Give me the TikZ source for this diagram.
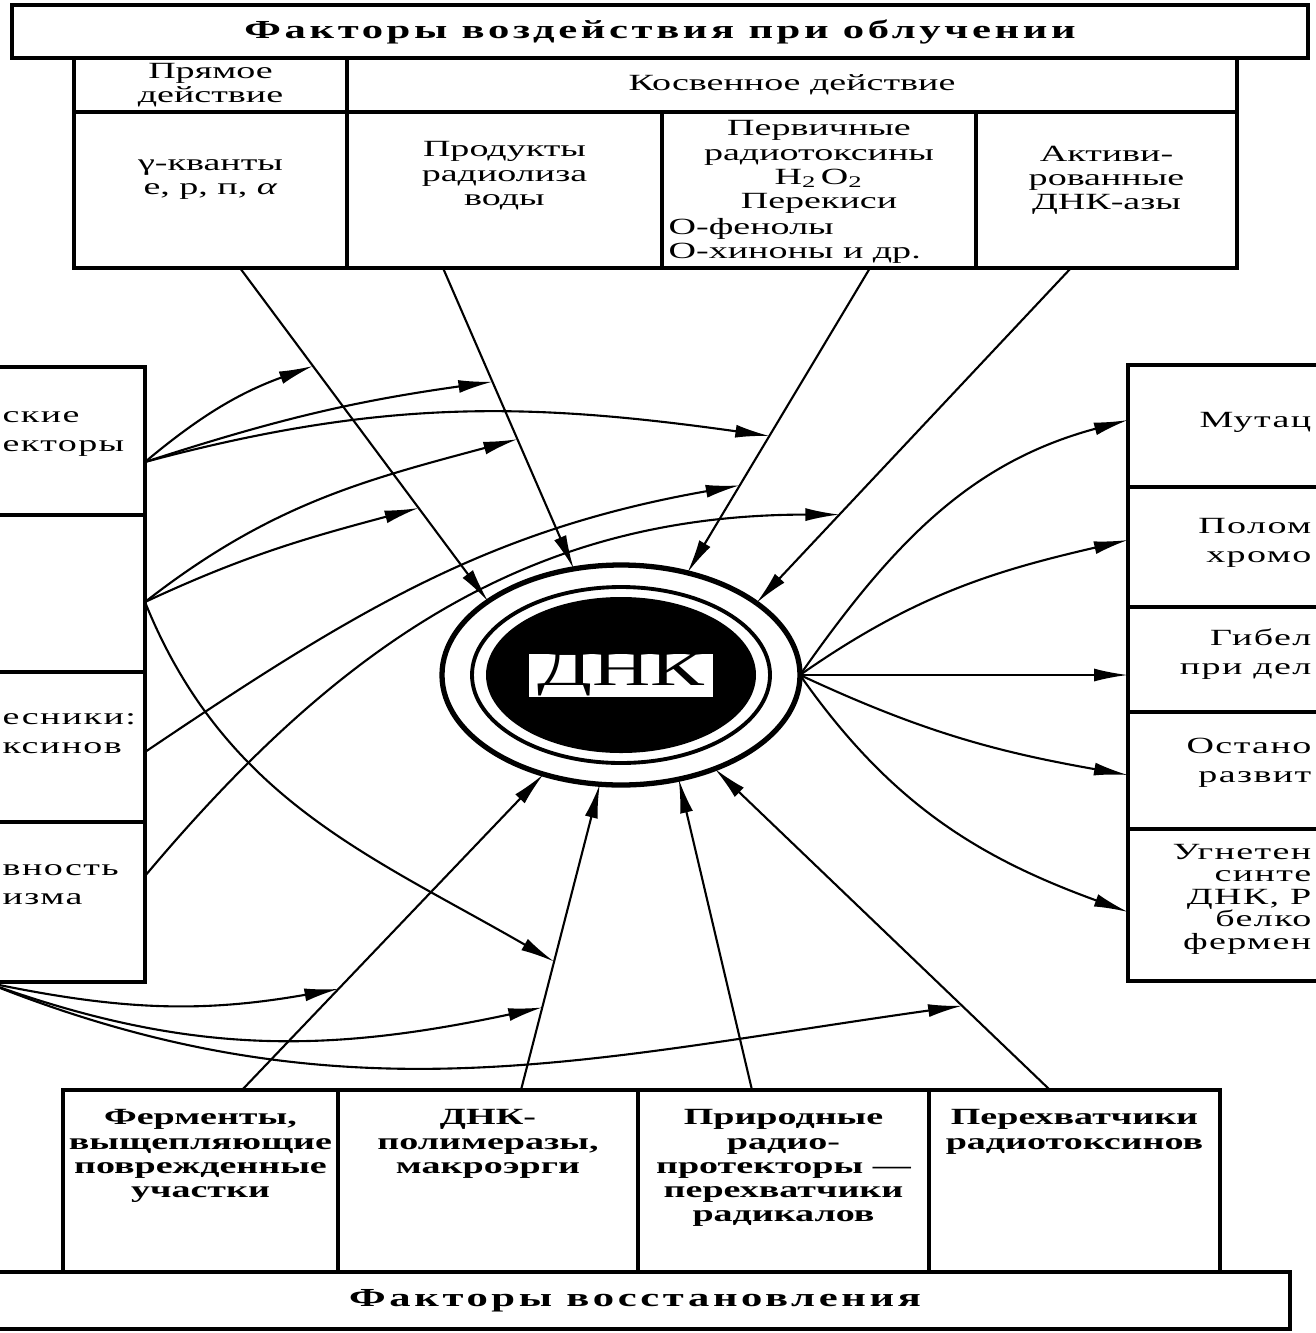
\documentclass[tikz,border=0pt]{standalone}
\usepackage{fontspec}
\setmainfont[FakeStretch=1.64]{Liberation Serif}
\newfontfamily\spacedfont[FakeStretch=1.64,LetterSpace=14]{Liberation Serif}
\newfontfamily\sidefont[FakeStretch=1.64,LetterSpace=6]{Liberation Serif}
\usetikzlibrary{arrows.meta,positioning,shapes.geometric}

\begin{document}
\begin{tikzpicture}[>={Latex[length=3.4mm,width=1.3mm]}, node distance=0pt,
  cell/.style={draw, line width=0.9pt, inner sep=0pt, outer sep=0pt},
  txt/.style={align=center, inner sep=0pt, font=\fontsize{6.6}{6.9}\selectfont},
  btxt/.style={txt, font=\fontsize{6.6}{6.9}\selectfont\bfseries},
  side/.style={inner sep=0pt, font=\sidefont\fontsize{6.6}{8.2}\selectfont},
  head/.style={inner sep=0pt, font=\spacedfont\bfseries\fontsize{7.4}{8}\selectfont},
  conn/.style={->, line width=0.6pt}]
 \useasboundingbox (0,0) rectangle (13.15,-13.33);

 % factors of the irradiation
 \node[cell, head, minimum width=12.96cm, minimum height=0.53cm] (title) at (6.60,-0.315) {Факторы воздействия при облучении};
 \node[cell, txt, minimum width=2.73cm, minimum height=0.54cm, anchor=north west] (direct) at (0.74,-0.58) {Прямое\\действие};
 \node[cell, txt, minimum width=8.90cm, minimum height=0.54cm, right=of direct] (indirect) {Косвенное действие};
 \node[cell, minimum width=2.73cm, minimum height=1.56cm, below=of direct] (gamma) {};
 \node[cell, minimum width=3.15cm, minimum height=1.56cm, right=of gamma] (radiolysis) {};
 \node[cell, minimum width=3.14cm, minimum height=1.56cm, right=of radiolysis] (toxins) {};
 \node[cell, minimum width=2.61cm, minimum height=1.56cm, right=of toxins] (dnase) {};
 \node[txt, below=0.47cm of gamma.north] (gammatxt) {γ-кванты\\е, р, п, \textit{α}};
 \node[txt, below=0.29cm of radiolysis.north] (radtxt) {Продукты\\радиолиза\\воды};
 \node[txt, below=0.08cm of toxins.north] (toxtxt) {Первичные\\радиотоксины\\H\textsubscript{2}\,O\textsubscript{2}\\Перекиси};
 \node[txt, align=left, anchor=north west, xshift=0.06cm, yshift=-0.03cm] (toxtxt2) at (toxins.west |- toxtxt.south) {О-фенолы\\О-хиноны и др.};
 \node[txt, below=0.33cm of dnase.north] (dnasetxt) {Активи-\\рованные\\ДНК-азы};

 % left column (cut off)
 \node[cell, minimum width=3cm, minimum height=1.48cm, anchor=north east] (prot) at (1.45,-3.67) {};
 \node[cell, minimum width=3cm, minimum height=1.57cm, below=of prot] (lb2) {};
 \node[cell, minimum width=3cm, minimum height=1.50cm, below=of lb2] (interc) {};
 \node[cell, minimum width=3cm, minimum height=1.60cm, below=of interc] (react) {};
 \node[side, align=left, anchor=west] (prottxt) at (0.02,-4.34) {ские\\екторы};
 \node[side, align=left, anchor=west] (intertxt) at (0.02,-7.34) {есники:\\ксинов};
 \node[side, align=left, anchor=west] (reacttxt) at (0.02,-8.85) {вность\\изма};

 % right column (cut off)
 \node[cell, minimum width=3.6cm, minimum height=1.22cm, anchor=north west] (mut) at (11.28,-3.65) {};
 \node[cell, minimum width=3.6cm, minimum height=1.20cm, below=of mut] (breaks) {};
 \node[cell, minimum width=3.6cm, minimum height=1.05cm, below=of breaks] (death) {};
 \node[cell, minimum width=3.6cm, minimum height=1.17cm, below=of death] (arrest) {};
 \node[cell, minimum width=3.6cm, minimum height=1.52cm, below=of arrest] (inhib) {};
 \node[side, align=right, anchor=east] (muttxt) at (13.12,-4.22) {Мутац};
 \node[side, align=right, anchor=east] (breakstxt) at (13.12,-5.425) {Полом\\хромо};
 \node[side, align=right, anchor=east] (deathtxt) at (13.12,-6.54) {Гибел\\при дел};
 \node[side, align=right, anchor=east] (arresttxt) at (13.12,-7.63) {Остано\\развит};
 \node[side, align=right, anchor=east, font=\sidefont\fontsize{6.6}{6.4}\selectfont] (inhibtxt) at (13.12,-8.99) {Угнетен\\синте\\ДНК, Р\\белко\\фермен};

 % repair factors
 \node[cell, minimum width=2.75cm, minimum height=1.82cm, anchor=north west] (enz) at (0.63,-10.90) {};
 \node[cell, minimum width=3.00cm, minimum height=1.82cm, right=of enz] (polym) {};
 \node[cell, minimum width=2.91cm, minimum height=1.82cm, right=of polym] (natprot) {};
 \node[cell, minimum width=2.91cm, minimum height=1.82cm, right=of natprot] (catch) {};
 \node[cell, head, minimum width=13.10cm, minimum height=0.57cm, anchor=north west] (repair) at (-0.2,-12.72) {Факторы восстановления};
 \node[btxt, below=0.19cm of enz.north] (enztxt) {Ферменты,\\выщепляющие\\поврежденные\\участки};
 \node[btxt, below=0.19cm of polym.north] (polymtxt) {ДНК-\\полимеразы,\\макроэрги};
 \node[btxt, below=0.19cm of natprot.north] (natprottxt) {Природные\\радио-\\протекторы —\\перехватчики\\радикалов};
 \node[btxt, below=0.19cm of catch.north] (catchtxt) {Перехватчики\\радиотоксинов};

 % DNA
 \node[ellipse, draw, line width=1.5pt, minimum width=3.58cm, minimum height=2.20cm, inner sep=0pt, outer sep=0pt] (dna) at (6.21,-6.75) {};
 \draw[line width=1.1pt] (dna.center) ellipse [x radius=1.49cm, y radius=0.88cm];
 \fill (dna.center) ellipse [x radius=1.35cm, y radius=0.78cm];
 \node[fill=white, inner sep=0pt, minimum width=1.84cm, minimum height=0.43cm, font=\fontsize{14}{14}\selectfont] (dnalbl) at (dna.center) {ДНК};

 % radial lines
 \draw[conn] ([xshift=2.95mm]gamma.south) -- coordinate[pos=0.294] (ga) coordinate[pos=0.72] (gd) (dna.151.8);
 \draw[conn] ([xshift=-6.15mm]radiolysis.south) -- coordinate[pos=0.378] (rb) coordinate[pos=0.569] (re) (dna.114.4);
 \draw[conn] ([xshift=5.1mm]toxins.south) -- coordinate[pos=0.551] (tc) coordinate[pos=0.713] (ti) (dna.57.5);
 \draw[conn] ([xshift=-3.55mm]dnase.south) -- coordinate[pos=0.736] (dr) (dna.28.2);
 \draw[conn] ([xshift=4.15mm]enz.north) -- coordinate[pos=0.32] (eg) (dna.232.5);
 \draw[conn] ([xshift=3.3mm]polym.north) -- coordinate[pos=0.27] (ph) coordinate[pos=0.42] (pf) (dna.259.9);
 \draw[conn] ([xshift=-3.15mm]natprot.north) -- (dna.299);
 \draw[conn] ([xshift=-2.45mm]catch.north) -- coordinate[pos=0.262] (ci) (dna.315.9);

 % effects
 \draw[conn] (dna.east) to[out=55,in=195] ([yshift=0.6mm]mut.west);
 \draw[conn] (dna.east) to[out=35,in=193] ([yshift=0.7mm]breaks.west);
 \draw[conn] (dna.east) -- (dna.east -| death.west);
 \draw[conn] (dna.east) to[out=-25,in=170] ([yshift=-0.45mm]arrest.west);
 \draw[conn] (dna.east) to[out=-55,in=160] ([yshift=-0.7mm]inhib.west);

 % modifiers
 \draw[conn] ([yshift=-2.1mm]prot.east) to[out=40,in=200] (ga);
 \draw[conn] ([yshift=-2.1mm]prot.east) to[out=18,in=188] (rb);
 \draw[conn] ([yshift=-2.1mm]prot.east) to[out=15,in=172] (tc);
 \draw[conn] ([yshift=-0.85mm]lb2.east) to[out=25,in=195] (gd);
 \draw[conn] ([yshift=-0.85mm]lb2.east) to[out=38,in=195] (re);
 \draw[conn] ([yshift=-0.85mm]lb2.east) to[out=-68,in=150] (pf);
 \draw[conn] ([yshift=-0.5mm]interc.east) to[out=34,in=190] (ti);
 \draw[conn] ([yshift=2.6mm]react.east) to[out=50,in=180] (dr);
 \coordinate (fan) at ([xshift=-1.6cm]react.south east);
 \draw[conn] (fan) to[out=-12,in=190] (eg);
 \draw[conn] (fan) to[out=-20,in=192] (ph);
 \draw[conn] (fan) to[out=-22,in=188] (ci);
\end{tikzpicture}
\end{document}
